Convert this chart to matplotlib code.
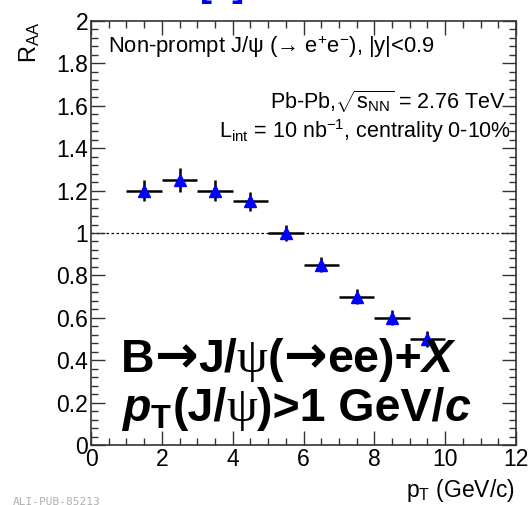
import matplotlib
matplotlib.use("Agg")
import matplotlib.pyplot as plt
from matplotlib.ticker import MultipleLocator

plt.rcParams['font.family'] = ['Liberation Sans', 'DejaVu Sans']
plt.rcParams['mathtext.fontset'] = 'custom'
plt.rcParams['mathtext.rm'] = 'Liberation Sans'
plt.rcParams['mathtext.it'] = 'Liberation Sans:italic'
plt.rcParams['mathtext.bf'] = 'Liberation Sans:bold'
plt.rcParams['mathtext.bfit'] = 'Liberation Sans:bold:italic'

# data
pt = [1.5, 2.5, 3.5, 4.5, 5.5, 6.5, 7.5, 8.5, 9.5]
pt_err = [0.5, 0.5, 0.5, 0.5, 0.5, 0.5, 0.5, 0.5, 0.5]
raa = [1.20, 1.25, 1.20, 1.15, 1.00, 0.85, 0.70, 0.60, 0.50]
raa_err = [0.05, 0.055, 0.05, 0.045, 0.04, 0.035, 0.035, 0.035, 0.04]
xtick_labels = ['0', '2', '4', '6', '8', '10', '12']
ytick_labels = ['0', '0.2', '0.4', '0.6', '0.8', '1', '1.2', '1.4', '1.6', '1.8', '2']

W, H = 529, 505
fig = plt.figure(figsize=(W / 100, H / 100), dpi=100)
ax = fig.add_axes([91 / W, (H - 445) / H, (516 - 91) / W, (445 - 21) / H])

ax.axhline(1.0, color='black', lw=0.9, ls=(0, (2, 2)), zorder=1)
ax.errorbar(pt, raa, xerr=pt_err, yerr=raa_err, fmt='none', ecolor='black',
            elinewidth=1.8, capsize=0, zorder=2)
ax.plot(pt, raa, ls='none', marker='^', color='blue', markersize=9, zorder=3)

ax.set_xlim(0, 12)
ax.set_ylim(0, 2)
ax.xaxis.set_minor_locator(MultipleLocator(0.5))
ax.yaxis.set_minor_locator(MultipleLocator(0.04))
ax.set_xticks([float(v) for v in xtick_labels])
ax.set_xticklabels(xtick_labels)
ax.set_yticks([float(v) for v in ytick_labels])
ax.set_yticklabels(ytick_labels)
ax.tick_params(which='both', direction='in', top=True, right=True, width=1, color='#333333')
ax.tick_params(which='major', length=10, labelsize=16.5, pad=2)
ax.tick_params(which='minor', length=5)
for s in ax.spines.values():
    s.set_linewidth(1.2)
    s.set_color('#333333')

# axis titles
fig.text(30 / W, 1 - 22 / H, r'R$_{\mathrm{AA}}$', rotation=90, ha='center', va='top', fontsize=17)
fig.text(515 / W, 1 - 490 / H, r'p$_{\mathrm{T}}$ (GeV/c)', ha='right', va='center', fontsize=16.5)

# annotations
fig.text(108 / W, 1 - 47 / H, r'Non-prompt J/ψ (→ e$^{+}$e$^{-}$), |y|<0.9', ha='left', va='center', fontsize=15.8)
fig.text(506 / W, 1 - 102 / H, r'Pb-Pb,$\sqrt{\mathrm{s}_{\mathrm{NN}}}$ = 2.76 TeV', ha='right', va='center', fontsize=15.5)
fig.text(511 / W, 1 - 131 / H, r'L$_{\mathrm{int}}$ = 10 nb$^{-1}$, centrality 0-10%', ha='right', va='center', fontsize=15.5)

renderer = fig.canvas.get_renderer()


def draw_pieces(x_px, base_px, pieces):
    x = x_px
    for txt, kw in pieces:
        t = fig.text(x / W, 1 - base_px / H, txt, ha='left', va='baseline', **kw)
        bb = t.get_window_extent(renderer=renderer)
        x += bb.width


BIG = 33.5
bold = dict(fontsize=BIG, fontweight='bold', family='Liberation Sans')
bolditalic = dict(fontsize=BIG, fontweight='bold', fontstyle='italic', family='Liberation Sans')
arrow = dict(fontsize=BIG + 4, fontweight='bold', family='DejaVu Sans')
psi = dict(fontsize=BIG + 2, family='Liberation Serif')

draw_pieces(121, 372, [
    ('B', bold), ('→', arrow), ('J/', bold), ('ψ', psi), ('(', bold),
    ('→', arrow), ('ee)+', bold), ('X', bolditalic),
])
draw_pieces(121, 421, [
    (r'$\mathbfit{p}_{\mathbf{T}}$', dict(fontsize=BIG)), ('(J/', bold), ('ψ', psi),
    (')>1 GeV/', bold), ('c', bolditalic),
])

fig.text(13 / W, 1 - 502 / H, 'ALI-PUB-85213', family='DejaVu Sans Mono', fontsize=8,
         color='#b0b0b0', ha='left', va='center')
fig.text(222 / W, 1 - 4 / H, '[9]', color='blue', fontweight='bold', fontsize=26, ha='center', va='bottom')

fig.savefig('out.png', dpi=100)
